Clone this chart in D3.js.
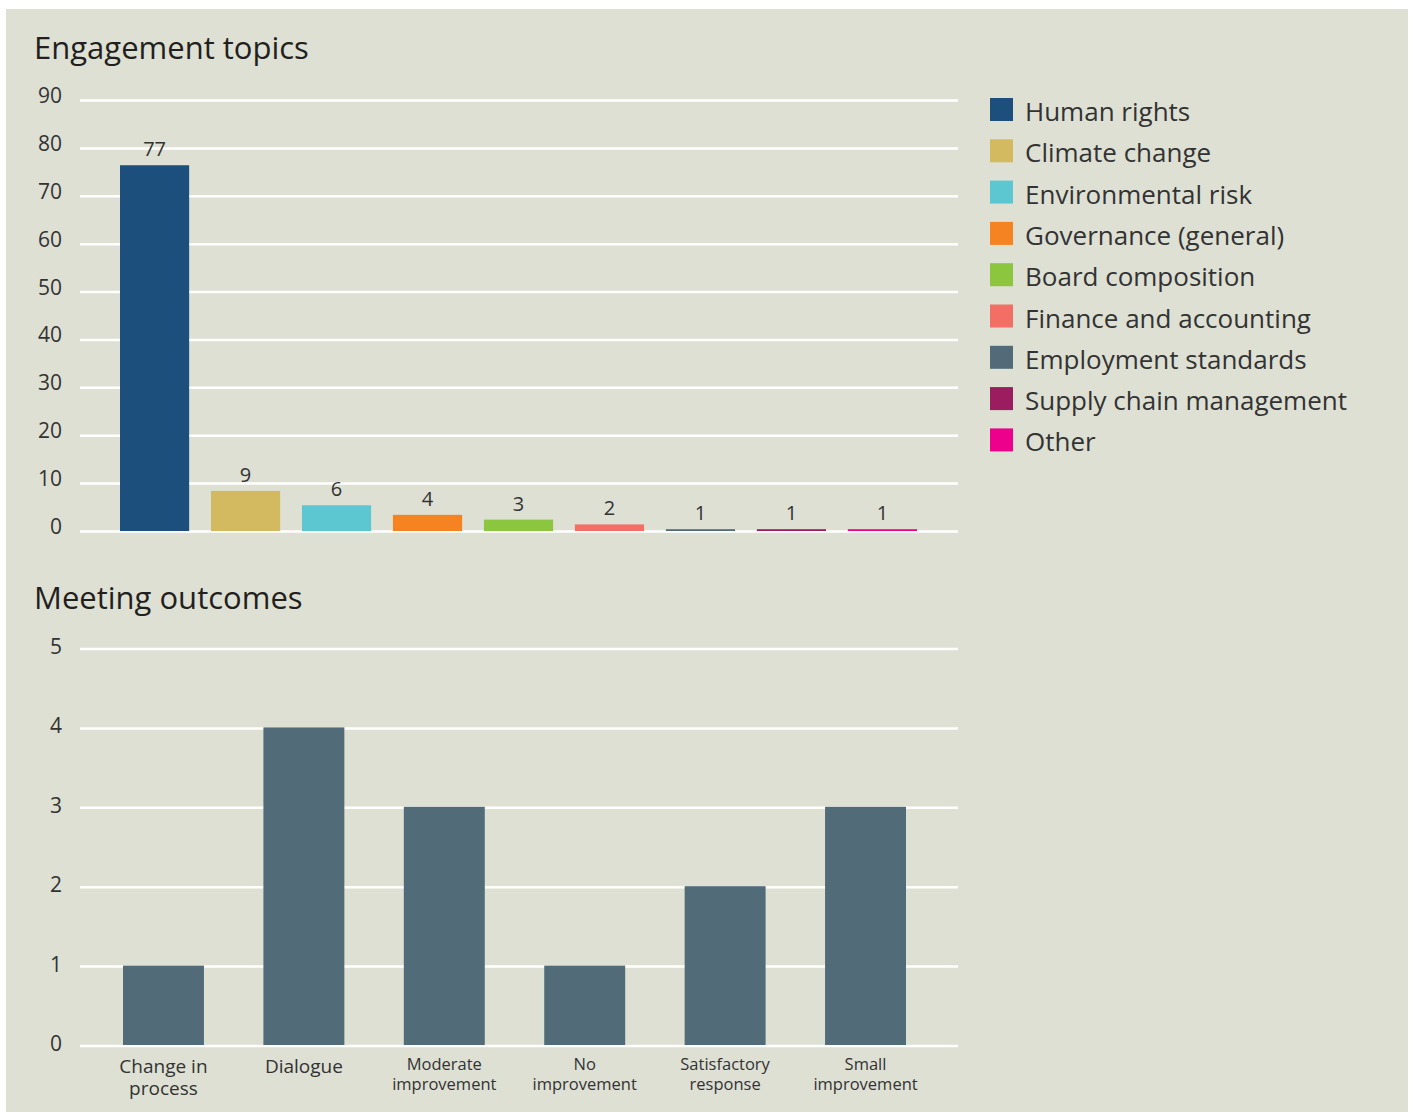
<!DOCTYPE html>
<html>
<head>
<meta charset="utf-8">
<script src="https://cdn.jsdelivr.net/npm/d3@7/dist/d3.min.js"></script>
<style>
  body { margin: 0; background: #fff; }
  text { font-family: "Open Sans", Lato, sans-serif; }
</style>
</head>
<body>
<div id="chart"></div>
<script>
// engagement topics (top chart)
var topics = ["Human rights", "Climate change", "Environmental risk", "Governance (general)",
              "Board composition", "Finance and accounting", "Employment standards",
              "Supply chain management", "Other"];
var topicCounts = [77, 9, 6, 4, 3, 2, 1, 1, 1];
var topicColors = ["#1d4f7c", "#d3b95f", "#5cc6d1", "#f58322", "#8cc63f",
                   "#f36f65", "#516b79", "#9b1c5f", "#ec008c"];
var topicTicks = [0, 10, 20, 30, 40, 50, 60, 70, 80, 90];

// meeting outcomes (bottom chart)
var outcomes = [["Change in", "process"], ["Dialogue"], ["Moderate", "improvement"],
                ["No", "improvement"], ["Satisfactory", "response"], ["Small", "improvement"]];
var outcomeCounts = [1, 4, 3, 1, 2, 3];
var outcomeTicks = [0, 1, 2, 3, 4, 5];

var W = 1411, H = 1112;
var svg = d3.select("#chart").append("svg")
    .attr("width", W).attr("height", H);

svg.append("rect")
    .attr("x", 6).attr("y", 9)
    .attr("width", 1402).attr("height", H - 9)
    .attr("fill", "#dde0d3");

var gridX0 = 80, gridX1 = 958;

// ---- top chart ----
svg.append("text")
    .attr("x", 34).attr("y", 59)
    .style("font-size", "31px")
    .attr("fill", "#231f20")
    .text("Engagement topics");

var x1 = d3.scaleBand().domain(topics).range([120, 917])
    .paddingInner(0.24).paddingOuter(0);
var y1 = d3.scaleLinear().domain([0, 90]).range([531, 100]);

var g1 = svg.append("g");
g1.selectAll("line.grid")
    .data(topicTicks)
    .enter().append("line")
    .attr("x1", gridX0).attr("x2", gridX1)
    .attr("y1", function (d) { return y1(d) + 0.5; })
    .attr("y2", function (d) { return y1(d) + 0.5; })
    .attr("stroke", "#fff").attr("stroke-width", 2.5);

g1.selectAll("text.tick")
    .data(topicTicks)
    .enter().append("text")
    .attr("x", 62)
    .attr("y", function (d) { return y1(d) + 3; })
    .attr("text-anchor", "end")
    .style("font-size", "21px")
    .attr("fill", "#333")
    .text(function (d) { return d; });

// bars stop on top of the zero line
g1.selectAll("rect.bar")
    .data(topicCounts)
    .enter().append("rect")
    .attr("x", function (d, i) { return x1(topics[i]); })
    .attr("y", function (d) { return y1(d) + 3; })
    .attr("width", x1.bandwidth())
    .attr("height", function (d) { return y1(0) - y1(d) - 3; })
    .attr("fill", function (d, i) { return topicColors[i]; });

g1.selectAll("text.val")
    .data(topicCounts)
    .enter().append("text")
    .attr("x", function (d, i) { return x1(topics[i]) + x1.bandwidth() / 2; })
    .attr("y", function (d) { return y1(d) - 6; })
    .attr("text-anchor", "middle")
    .style("font-size", "20px")
    .attr("fill", "#333")
    .text(function (d) { return d; });

// legend
var leg = svg.append("g").attr("transform", "translate(990,98)");
var item = leg.selectAll("g")
    .data(topics)
    .enter().append("g")
    .attr("transform", function (d, i) { return "translate(0," + (i * 41.3) + ")"; });
item.append("rect")
    .attr("width", 23).attr("height", 23)
    .attr("fill", function (d, i) { return topicColors[i]; });
item.append("text")
    .attr("x", 35).attr("y", 23)
    .style("font-size", "26px")
    .attr("fill", "#333")
    .text(function (d) { return d; });

// ---- bottom chart ----
svg.append("text")
    .attr("x", 34).attr("y", 609)
    .style("font-size", "31px")
    .attr("fill", "#231f20")
    .text("Meeting outcomes");

var x2 = d3.scaleBand().domain(d3.range(outcomes.length)).range([123, 906])
    .paddingInner(0.4235).paddingOuter(0);
var y2 = d3.scaleLinear().domain([0, 5]).range([1046, 649]);

var g2 = svg.append("g");
g2.selectAll("line.grid")
    .data(outcomeTicks)
    .enter().append("line")
    .attr("x1", gridX0).attr("x2", gridX1)
    .attr("y1", function (d) { return y2(d); })
    .attr("y2", function (d) { return y2(d); })
    .attr("stroke", "#fff").attr("stroke-width", 2.5);

g2.selectAll("text.tick")
    .data(outcomeTicks)
    .enter().append("text")
    .attr("x", 62)
    .attr("y", function (d) { return y2(d) + 5; })
    .attr("text-anchor", "end")
    .style("font-size", "21px")
    .attr("fill", "#333")
    .text(function (d) { return d; });

g2.selectAll("rect.bar")
    .data(outcomeCounts)
    .enter().append("rect")
    .attr("x", function (d, i) { return x2(i); })
    .attr("y", function (d) { return y2(d) - 1; })
    .attr("width", x2.bandwidth())
    .attr("height", function (d) { return y2(0) - y2(d); })
    .attr("fill", "#516b79");

// category labels; long words get the smaller size
g2.selectAll("text.cat")
    .data(outcomes)
    .enter().append("text")
    .attr("text-anchor", "middle")
    .attr("fill", "#333")
    .each(function (lines, i) {
      var longest = d3.max(lines, function (s) { return s.length; });
      var small = longest > 9;
      var t = d3.select(this)
          .style("font-size", small ? "16.5px" : "19px");
      var cx = x2(i) + x2.bandwidth() / 2;
      lines.forEach(function (s, k) {
        t.append("tspan")
          .attr("x", cx)
          .attr("y", (small ? 1070 : 1073) + k * (small ? 20 : 22))
          .text(s);
      });
    });
</script>
</body>
</html>
